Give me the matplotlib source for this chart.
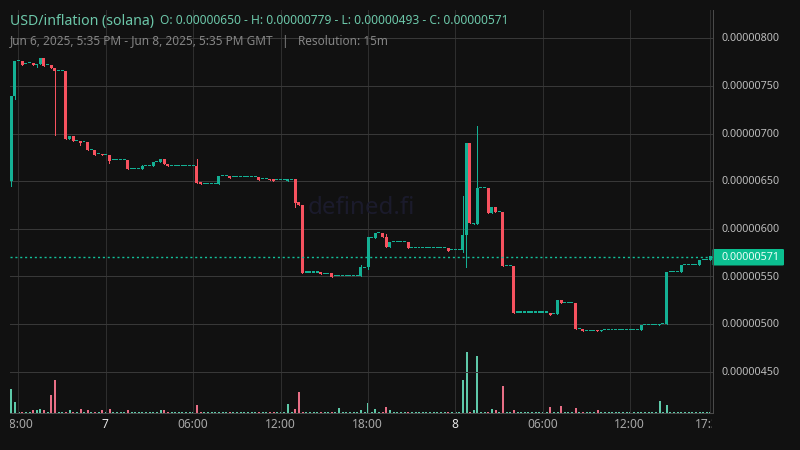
import matplotlib
matplotlib.use("Agg")
import matplotlib.pyplot as plt
from matplotlib.patches import Rectangle, FancyBboxPatch
from matplotlib.transforms import Bbox
import numpy as np

plt.rcParams['font.family'] = ['Noto Sans', 'DejaVu Sans']

# Prices in units of 1e-8
opens = [650,739,776,776,773,774,774,772,773,779,
         772,772,769,766,766,766,694,697,692,692,
         691,691,683,683,678,678,677,677,672,672,
         672,672,672,663,663,663,663,666,666,666,
         670,670,673,668,666,666,666,666,666,666,
         666,666,649,647,647,647,647,647,655,655,
         655,654,654,654,654,654,654,654,654,652,
         652,652,652,651,651,651,650,651,652,628,
         625,554,554,554,554,555,552,552,553,550,
         550,550,550,550,550,550,550,559,560,590,
         590,595,595,591,581,586,586,586,586,586,
         580,580,580,580,580,580,580,580,580,580,
         580,578,578,578,578,593,690,605,605,643,
         643,643,616,623,618,618,561,561,561,512,
         512,512,512,512,512,512,512,512,512,510,
         510,525,522,522,522,522,495,495,493,493,
         493,494,493,494,494,494,494,494,494,494,
         494,494,494,494,499,499,499,499,499,500,
         500,555,555,555,555,562,562,562,562,562,
         567,567,567]
closes = [739,776,776,772,773,774,772,773,779,771,
          772,769,766,766,766,694,697,692,692,690,
          691,683,683,677,678,677,677,671,672,672,
          672,672,663,663,663,663,666,666,666,670,
          670,673,668,666,666,666,666,666,666,666,
          666,648,647,647,647,647,647,655,655,655,
          653,654,654,654,654,654,654,654,651,652,
          652,651,650,651,651,651,652,651,627,625,
          554,554,554,554,554,552,552,552,549,550,
          550,550,550,550,550,550,560,559,591,590,
          595,595,591,581,586,586,586,586,586,580,
          580,580,580,580,580,580,580,580,580,580,
          577,578,578,578,593,690,606,606,643,643,
          643,616,623,618,618,561,561,561,512,512,
          512,512,512,512,512,512,512,512,509,510,
          525,522,522,522,522,495,495,493,493,493,
          493,493,494,494,494,494,494,494,494,494,
          494,494,494,499,499,499,499,499,500,500,
          555,555,555,555,562,562,562,562,562,567,
          567,567,571]
wick_highs = {36:667, 51:673, 96:562, 103:594, 124:634, 128:708}
wick_lows = {0:645, 1:736, 7:770, 12:698, 19:688, 27:669, 78:623, 98:558,
             124:576, 125:560}
volumes = [70,31,2,2,2,2,6,6,10,7,
           2,52,97,2,2,2,7,2,2,10,
           2,7,2,2,2,7,2,10,2,2,
           2,2,7,2,2,2,2,2,2,2,
           2,7,7,2,2,2,2,2,2,2,
           2,22,2,2,2,2,2,2,2,2,
           2,2,2,2,2,2,2,2,2,2,
           2,2,2,2,2,2,25,2,10,61,
           2,2,2,2,2,2,2,2,2,2,
           13,2,2,2,2,2,7,2,28,2,
           10,2,2,16,7,2,2,2,2,2,
           2,2,2,2,2,2,2,2,2,2,
           2,2,2,2,97,181,2,7,169,2,
           2,2,10,7,2,79,2,2,7,2,
           2,2,2,2,2,2,2,2,16,2,
           2,19,2,2,2,13,2,2,2,2,
           2,7,2,2,2,2,2,2,2,2,
           2,2,2,2,2,2,2,2,34,2,
           22,2,2,2,2,2,2,2,2,2,
           2,2,2]
price_ticks = [800,750,700,650,600,550,500,450]
time_ticks = [2,26,50,74,98,122,146,170,192]
time_labels = ['18:00','7','06:00','12:00','18:00','8','06:00','12:00','17:30']
last_price = 570.5

BG = '#111111'; UP = '#14b094'; DOWN = '#f7525f'
VUP = '#5ec9a9'; VDOWN = '#e86f86'
W, H = 800, 450
fig = plt.figure(figsize=(8, 4.5), dpi=100, facecolor=BG)
ax = fig.add_axes([10/W, 1-412.5/H, 702.5/W, 402.5/H], facecolor=BG)
ax.set_xlim(-0.32, 192.6)
ax.set_ylim(407, 829.7)

idx = np.arange(len(opens))
o = np.array(opens, float); c = np.array(closes, float)
colors = [DOWN if b < a else UP for a, b in zip(o, c)]
vcolors = [VDOWN if b < a else VUP for a, b in zip(o, c)]

ax.set_yticks(price_ticks)
ax.set_xticks(time_ticks)
ax.grid(axis='y', color='#383838', lw=0.72, zorder=1)
ax.grid(axis='x', color='#2e2e2e', lw=0.72, zorder=1)

# header mask hides the grid behind the title block
mask = Rectangle((10/W, 1-54/H), 510/W, 44/H, transform=fig.transFigure,
                 facecolor=BG, edgecolor='none', zorder=1.5)
ax.add_artist(mask)

# volume
vax = ax.twinx()
vax.set_position(ax.get_position())
vax.set_ylim(0, 1207)
vax.axis('off')
vax.bar(idx + 0.05, volumes, width=0.55, color=vcolors, zorder=2)

ax.set_zorder(vax.get_zorder() + 1)
ax.patch.set_visible(False)

# candles
body = np.maximum(np.abs(c - o), 1.1)
bottoms = np.minimum(o, c)
hi = np.array([wick_highs.get(i, max(o[i], c[i])) for i in idx])
lo = np.array([wick_lows.get(i, min(o[i], c[i])) for i in idx])
ax.vlines(idx, lo, hi, colors=colors, lw=0.72, antialiased=False, zorder=3)
ax.bar(idx, body, bottom=bottoms, width=0.82, color=colors, zorder=4)

ax.axhline(last_price, color='#12c09a', lw=1.0, ls=(0, (1.5, 2.0)), zorder=5)

fig.text(361/W, 1-208/H, 'defined.fi', color='#1b1b2c', fontsize=17.3,
         ha='center', va='center', zorder=1.8)

for s in ('top', 'left'):
    ax.spines[s].set_visible(False)
for s in ('right', 'bottom'):
    ax.spines[s].set_color('#4a4a4a'); ax.spines[s].set_linewidth(0.72)

ax.tick_params(axis='both', length=0)
ax.set_yticklabels([])
ax.set_xticklabels([])

# y labels
for v in price_ticks:
    y = ax.transData.transform((0, v))[1]
    fig.text(722/W, (y - 0.7)/fig.bbox.height, f'{v*1e-8:.8f}', color='#bcbcbc', fontsize=7.75,
             ha='left', va='center')

# x labels, clipped to the plot width as in the original
clip = Bbox.from_extents(10, 0, 712, 450)
for t, lab in zip(time_ticks, time_labels):
    x = ax.transData.transform((t, 0))[0]
    bold = lab in ('7', '8')
    txt = fig.text((x - 0.5)/W, 1-425/H, lab, color='#e6e6e6' if bold else '#a8a8a8',
                   fontsize=8.6, ha='center', va='center',
                   fontweight='bold' if bold else 'normal')
    txt.set_clip_box(clip); txt.set_clip_on(True)

# last-price tag
fig.add_artist(FancyBboxPatch((712.5/W, 1-265.5/H), 71.5/W, 16.5/H, transform=fig.transFigure,
                              boxstyle='round,pad=0,rounding_size=0.002',
                              facecolor='#0bbf90', edgecolor='none'))
fig.text(722/W, 1-258/H, f'{571e-8:.8f}', color='#eafff8', fontsize=7.75, ha='left', va='center')

# header
fig.text(10/W, 1-21/H, 'USD/inflation (solana)', color='#6cc7a9', fontsize=10.15, ha='left', va='center')
fig.text(160/W, 1-21/H, 'O: 0.00000650 - H: 0.00000779 - L: 0.00000493 - C: 0.00000571',
         color='#6cc7a9', fontsize=8.65, ha='left', va='center')
fig.text(10/W, 1-41/H, 'Jun 6, 2025, 5:35 PM - Jun 8, 2025, 5:35 PM GMT   |   Resolution: 15m',
         color='#858585', fontsize=8.5, ha='left', va='center')

fig.savefig('out.png', dpi=100, facecolor=BG)
